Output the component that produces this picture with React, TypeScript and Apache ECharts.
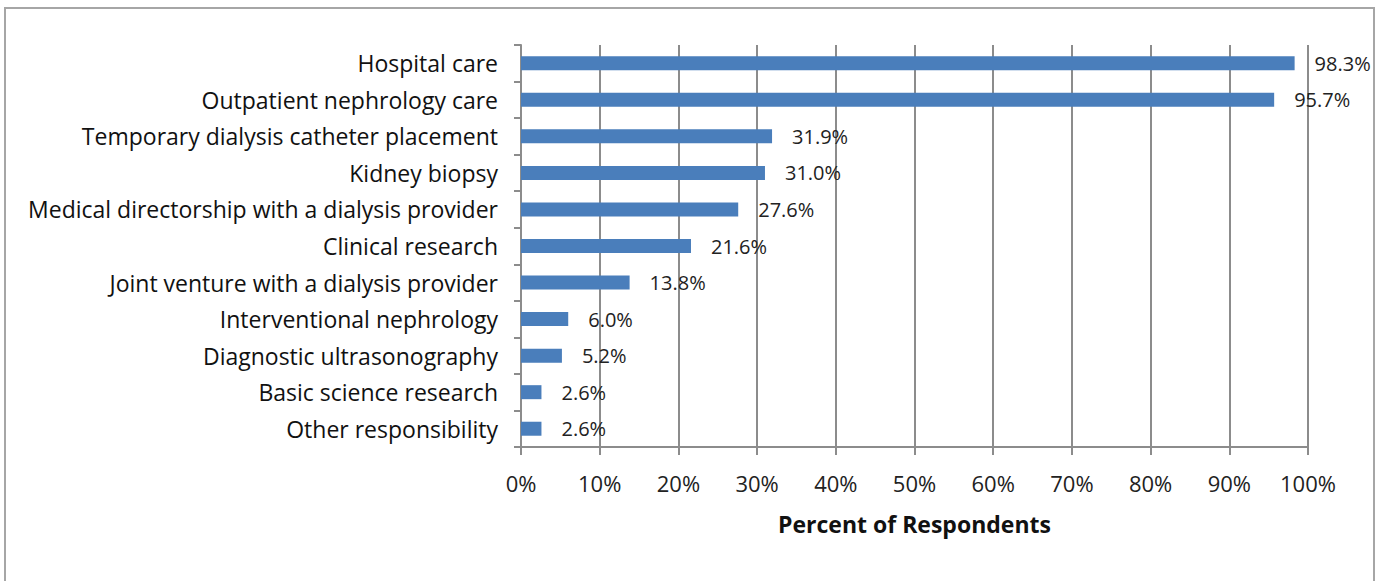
import React, { useEffect, useRef } from "react";
import * as echarts from "echarts";

const categories = [
  "Hospital care",
  "Outpatient nephrology care",
  "Temporary dialysis catheter placement",
  "Kidney biopsy",
  "Medical directorship with a dialysis provider",
  "Clinical research",
  "Joint venture with a dialysis provider",
  "Interventional nephrology",
  "Diagnostic ultrasonography",
  "Basic science research",
  "Other responsibility",
];
const values = [98.3, 95.7, 31.9, 31.0, 27.6, 21.6, 13.8, 6.0, 5.2, 2.6, 2.6];
const axisName = "Percent of Respondents";

export default function App() {
  const ref = useRef<HTMLDivElement>(null);
  useEffect(() => {
    const chart = echarts.init(ref.current!, undefined, { renderer: "svg" });
    const font = "'Open Sans', sans-serif";
    chart.setOption({
      animation: false,
      backgroundColor: "#ffffff",
      textStyle: { fontFamily: font },
      graphic: [
        {
          type: "rect",
          shape: { x: 5, y: 8, width: 1369, height: 600 },
          style: { fill: "none", stroke: "#a6a6a6", lineWidth: 2 },
          silent: true,
        },
      ],
      grid: { left: 521, right: 70, top: 45, bottom: 134, containLabel: false },
      xAxis: {
        type: "value",
        min: 0,
        max: 100,
        interval: 10,
        name: axisName,
        nameLocation: "middle",
        nameGap: 65,
        nameTextStyle: { fontFamily: font, fontSize: 23, fontWeight: "bold", color: "#111" },
        axisLine: { show: true, lineStyle: { color: "#8c8c8c", width: 2 } },
        axisTick: { show: true, length: 8, lineStyle: { color: "#8c8c8c", width: 2 } },
        axisLabel: { formatter: "{value}%", fontSize: 22, color: "#222", margin: 25, fontFamily: font },
        splitLine: { show: true, lineStyle: { color: "#8c8c8c", width: 2 } },
      },
      yAxis: {
        type: "category",
        inverse: true,
        data: categories,
        axisLine: { show: true, lineStyle: { color: "#8c8c8c", width: 2 } },
        axisTick: { show: true, length: 7, alignWithLabel: false, lineStyle: { color: "#8c8c8c", width: 2 } },
        axisLabel: { fontSize: 23, color: "#111", margin: 23, fontFamily: font },
        splitLine: { show: false },
      },
      series: [
        {
          type: "bar",
          data: values,
          barWidth: 14,
          itemStyle: { color: "#4a7ebb" },
          label: {
            show: true,
            position: "right",
            distance: 20,
            formatter: (p: any) => p.value.toFixed(1) + "%",
            fontSize: 20,
            color: "#222",
            fontFamily: font,
          },
        },
      ],
    });
    return () => chart.dispose();
  }, []);
  return (
    <div
      ref={ref}
      style={{ position: "absolute", left: 0, top: 0, width: 1378, height: 581 }}
    />
  );
}
